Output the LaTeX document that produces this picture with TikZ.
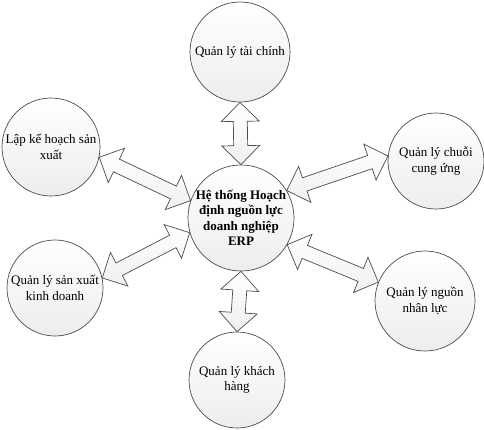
\documentclass[tikz,border=0pt]{standalone}
\usepackage{fontspec}
\setmainfont{Liberation Serif}
\usetikzlibrary{calc}

\tikzset{
  bubble/.style={circle, draw=black!70, line width=0.7pt, top color=white, bottom color=black!7,
    minimum size=100pt, inner sep=0pt, align=center, font=\fontsize{13}{15.5}\selectfont},
  arrowbox/.style={draw=black!70, line width=0.7pt, top color=white, bottom color=black!6, line join=miter},
}

% double block arrow between two anchors
\newcommand\dblarrow[2]{%
  \coordinate (p1) at ($(#1)!19pt!(#2)$);
  \coordinate (p2) at ($(#2)!19pt!(#1)$);
  \draw[arrowbox] (#1) -- ($(p1)!19pt!90:(#2)$) -- ($(p1)!7pt!90:(#2)$)
    -- ($(p2)!7pt!-90:(#1)$) -- ($(p2)!19pt!-90:(#1)$) -- (#2)
    -- ($(p2)!19pt!90:(#1)$) -- ($(p2)!7pt!90:(#1)$)
    -- ($(p1)!7pt!-90:(#2)$) -- ($(p1)!19pt!-90:(#2)$) -- cycle;}

\begin{document}
\begin{tikzpicture}[x=1pt,y=-1pt]
    \useasboundingbox (0,0) rectangle (484,429);
    \node[bubble, font=\bfseries\fontsize{13}{15.5}\selectfont] (erp) at (241,218) {Hệ thống Hoạch\\định nguồn lực\\doanh nghiệp\\ERP};
    \node[bubble] (tc) at (240,52) {Quản lý tài chính};
    \node[bubble, minimum size=98pt] (lkh) at (51,147) {Lập kế hoạch sản\\xuất};
    \node[bubble, minimum size=96pt] (scm) at (436,161) {Quản lý chuỗi\\cung ứng};
    \node[bubble, minimum size=96pt] (sx) at (55,288) {Quản lý sản xuất\\kinh doanh};
    \node[bubble] (nl) at (425,301) {Quản lý nguồn\\nhân lực};
    \node[bubble, minimum size=96pt] (kh) at (237,380) {Quản lý khách\\hàng};
    \dblarrow{erp.90}{tc.-90}
    \dblarrow{erp.-90}{kh.90}
    \dblarrow{erp.161}{lkh.-12}
    \dblarrow{erp.196}{sx.12}
    \dblarrow{erp.31}{scm.174}
    \dblarrow{erp.-30}{nl.158}
\end{tikzpicture}
\end{document}
